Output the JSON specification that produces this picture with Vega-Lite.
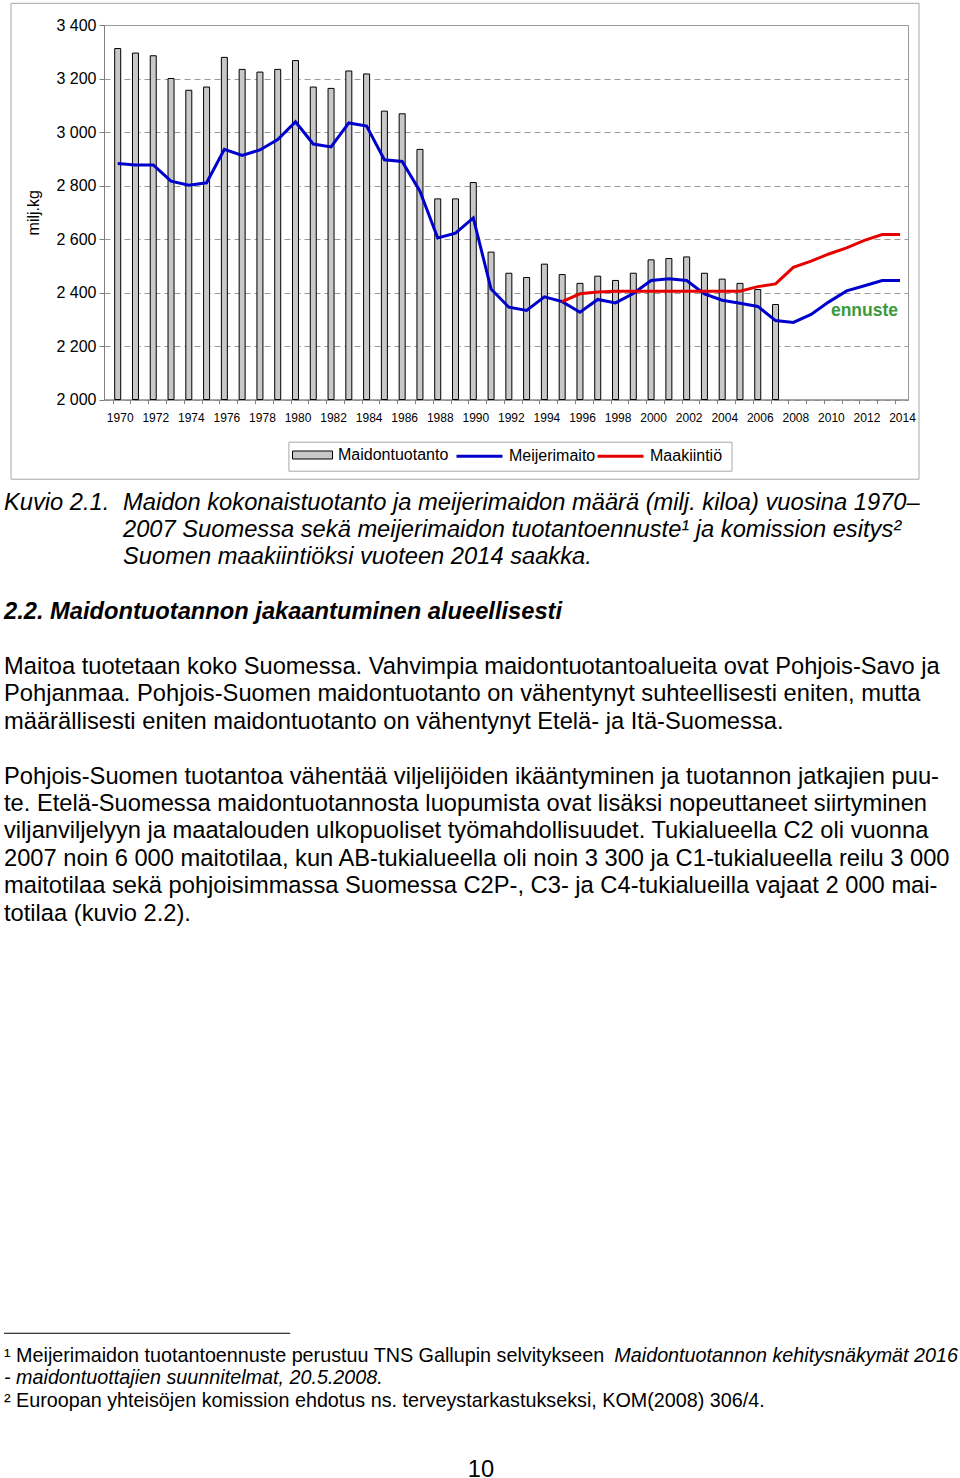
{
  "$schema": "https://vega.github.io/schema/vega-lite/v6.json",
  "background": "white",
  "padding": {"left": 3, "top": 2, "right": 0, "bottom": 0},
  "datasets": {
    "milk": [
      {"year": 1970, "series": "Maidontuotanto", "value": 3312},
      {"year": 1971, "series": "Maidontuotanto", "value": 3295},
      {"year": 1972, "series": "Maidontuotanto", "value": 3285},
      {"year": 1973, "series": "Maidontuotanto", "value": 3200},
      {"year": 1974, "series": "Maidontuotanto", "value": 3156},
      {"year": 1975, "series": "Maidontuotanto", "value": 3168},
      {"year": 1976, "series": "Maidontuotanto", "value": 3279},
      {"year": 1977, "series": "Maidontuotanto", "value": 3234},
      {"year": 1978, "series": "Maidontuotanto", "value": 3224},
      {"year": 1979, "series": "Maidontuotanto", "value": 3234},
      {"year": 1980, "series": "Maidontuotanto", "value": 3267},
      {"year": 1981, "series": "Maidontuotanto", "value": 3168},
      {"year": 1982, "series": "Maidontuotanto", "value": 3163},
      {"year": 1983, "series": "Maidontuotanto", "value": 3228},
      {"year": 1984, "series": "Maidontuotanto", "value": 3217},
      {"year": 1985, "series": "Maidontuotanto", "value": 3078},
      {"year": 1986, "series": "Maidontuotanto", "value": 3068},
      {"year": 1987, "series": "Maidontuotanto", "value": 2935},
      {"year": 1988, "series": "Maidontuotanto", "value": 2750},
      {"year": 1989, "series": "Maidontuotanto", "value": 2750},
      {"year": 1990, "series": "Maidontuotanto", "value": 2811},
      {"year": 1991, "series": "Maidontuotanto", "value": 2551},
      {"year": 1992, "series": "Maidontuotanto", "value": 2472},
      {"year": 1993, "series": "Maidontuotanto", "value": 2456},
      {"year": 1994, "series": "Maidontuotanto", "value": 2506},
      {"year": 1995, "series": "Maidontuotanto", "value": 2467},
      {"year": 1996, "series": "Maidontuotanto", "value": 2434},
      {"year": 1997, "series": "Maidontuotanto", "value": 2461},
      {"year": 1998, "series": "Maidontuotanto", "value": 2445},
      {"year": 1999, "series": "Maidontuotanto", "value": 2472},
      {"year": 2000, "series": "Maidontuotanto", "value": 2522},
      {"year": 2001, "series": "Maidontuotanto", "value": 2527},
      {"year": 2002, "series": "Maidontuotanto", "value": 2533},
      {"year": 2003, "series": "Maidontuotanto", "value": 2472},
      {"year": 2004, "series": "Maidontuotanto", "value": 2450},
      {"year": 2005, "series": "Maidontuotanto", "value": 2434},
      {"year": 2006, "series": "Maidontuotanto", "value": 2411},
      {"year": 2007, "series": "Maidontuotanto", "value": 2355},
      {"year": 1970, "series": "Meijerimaito", "value": 2882},
      {"year": 1971, "series": "Meijerimaito", "value": 2877},
      {"year": 1972, "series": "Meijerimaito", "value": 2877},
      {"year": 1973, "series": "Meijerimaito", "value": 2816},
      {"year": 1974, "series": "Meijerimaito", "value": 2801},
      {"year": 1975, "series": "Meijerimaito", "value": 2810},
      {"year": 1976, "series": "Meijerimaito", "value": 2935},
      {"year": 1977, "series": "Meijerimaito", "value": 2912},
      {"year": 1978, "series": "Meijerimaito", "value": 2933},
      {"year": 1979, "series": "Meijerimaito", "value": 2972},
      {"year": 1980, "series": "Meijerimaito", "value": 3038},
      {"year": 1981, "series": "Meijerimaito", "value": 2955},
      {"year": 1982, "series": "Meijerimaito", "value": 2944},
      {"year": 1983, "series": "Meijerimaito", "value": 3034},
      {"year": 1984, "series": "Meijerimaito", "value": 3022},
      {"year": 1985, "series": "Meijerimaito", "value": 2896},
      {"year": 1986, "series": "Meijerimaito", "value": 2890},
      {"year": 1987, "series": "Meijerimaito", "value": 2779},
      {"year": 1988, "series": "Meijerimaito", "value": 2604},
      {"year": 1989, "series": "Meijerimaito", "value": 2622},
      {"year": 1990, "series": "Meijerimaito", "value": 2679},
      {"year": 1991, "series": "Meijerimaito", "value": 2413},
      {"year": 1992, "series": "Meijerimaito", "value": 2345},
      {"year": 1993, "series": "Meijerimaito", "value": 2333},
      {"year": 1994, "series": "Meijerimaito", "value": 2384},
      {"year": 1995, "series": "Meijerimaito", "value": 2366},
      {"year": 1996, "series": "Meijerimaito", "value": 2326},
      {"year": 1997, "series": "Meijerimaito", "value": 2374},
      {"year": 1998, "series": "Meijerimaito", "value": 2361},
      {"year": 1999, "series": "Meijerimaito", "value": 2396},
      {"year": 2000, "series": "Meijerimaito", "value": 2445},
      {"year": 2001, "series": "Meijerimaito", "value": 2451},
      {"year": 2002, "series": "Meijerimaito", "value": 2445},
      {"year": 2003, "series": "Meijerimaito", "value": 2395},
      {"year": 2004, "series": "Meijerimaito", "value": 2371},
      {"year": 2005, "series": "Meijerimaito", "value": 2360},
      {"year": 2006, "series": "Meijerimaito", "value": 2348},
      {"year": 2007, "series": "Meijerimaito", "value": 2295},
      {"year": 2008, "series": "Meijerimaito", "value": 2288},
      {"year": 2009, "series": "Meijerimaito", "value": 2318},
      {"year": 2010, "series": "Meijerimaito", "value": 2365},
      {"year": 2011, "series": "Meijerimaito", "value": 2406},
      {"year": 2012, "series": "Meijerimaito", "value": 2425},
      {"year": 2013, "series": "Meijerimaito", "value": 2445},
      {"year": 2014, "series": "Meijerimaito", "value": 2445},
      {"year": 1995, "series": "Maakiintiö", "value": 2366},
      {"year": 1996, "series": "Maakiintiö", "value": 2395},
      {"year": 1997, "series": "Maakiintiö", "value": 2402},
      {"year": 1998, "series": "Maakiintiö", "value": 2405},
      {"year": 1999, "series": "Maakiintiö", "value": 2405},
      {"year": 2000, "series": "Maakiintiö", "value": 2405},
      {"year": 2001, "series": "Maakiintiö", "value": 2405},
      {"year": 2002, "series": "Maakiintiö", "value": 2405},
      {"year": 2003, "series": "Maakiintiö", "value": 2405},
      {"year": 2004, "series": "Maakiintiö", "value": 2405},
      {"year": 2005, "series": "Maakiintiö", "value": 2405},
      {"year": 2006, "series": "Maakiintiö", "value": 2422},
      {"year": 2007, "series": "Maakiintiö", "value": 2432},
      {"year": 2008, "series": "Maakiintiö", "value": 2494},
      {"year": 2009, "series": "Maakiintiö", "value": 2517},
      {"year": 2010, "series": "Maakiintiö", "value": 2544},
      {"year": 2011, "series": "Maakiintiö", "value": 2567},
      {"year": 2012, "series": "Maakiintiö", "value": 2595},
      {"year": 2013, "series": "Maakiintiö", "value": 2617},
      {"year": 2014, "series": "Maakiintiö", "value": 2617}
    ],
    "maintext": [
      {"block": "caption", "col": "margin", "line": 0, "text": "Kuvio 2.1."},
      {"block": "caption", "col": "indent", "line": 0, "text": "Maidon kokonaistuotanto ja meijerimaidon määrä (milj. kiloa) vuosina 1970–"},
      {"block": "caption", "col": "indent", "line": 1, "text": "2007 Suomessa sekä meijerimaidon tuotantoennuste¹ ja komission esitys²"},
      {"block": "caption", "col": "indent", "line": 2, "text": "Suomen maakiintiöksi vuoteen 2014 saakka."},
      {"block": "heading", "col": "margin", "line": 4, "text": "2.2. Maidontuotannon jakaantuminen alueellisesti"},
      {"block": "body", "col": "margin", "line": 6, "text": "Maitoa tuotetaan koko Suomessa. Vahvimpia maidontuotantoalueita ovat Pohjois-Savo ja"},
      {"block": "body", "col": "margin", "line": 7, "text": "Pohjanmaa. Pohjois-Suomen maidontuotanto on vähentynyt suhteellisesti eniten, mutta"},
      {"block": "body", "col": "margin", "line": 8, "text": "määrällisesti eniten maidontuotanto on vähentynyt Etelä- ja Itä-Suomessa."},
      {"block": "body", "col": "margin", "line": 10, "text": "Pohjois-Suomen tuotantoa vähentää viljelijöiden ikääntyminen ja tuotannon jatkajien puu-"},
      {"block": "body", "col": "margin", "line": 11, "text": "te. Etelä-Suomessa maidontuotannosta luopumista ovat lisäksi nopeuttaneet siirtyminen"},
      {"block": "body", "col": "margin", "line": 12, "text": "viljanviljelyyn ja maatalouden ulkopuoliset työmahdollisuudet. Tukialueella C2 oli vuonna"},
      {"block": "body", "col": "margin", "line": 13, "text": "2007 noin 6 000 maitotilaa, kun AB-tukialueella oli noin 3 300 ja C1-tukialueella reilu 3 000"},
      {"block": "body", "col": "margin", "line": 14, "text": "maitotilaa sekä pohjoisimmassa Suomessa C2P-, C3- ja C4-tukialueilla vajaat 2 000 mai-"},
      {"block": "body", "col": "margin", "line": 15, "text": "totilaa (kuvio 2.2)."}
    ],
    "footnotes": [
      {"kind": "separator", "place": "start", "line": -1, "text": ""},
      {"kind": "note", "place": "start", "line": 0, "text": "¹ Meijerimaidon tuotantoennuste perustuu TNS Gallupin selvitykseen"},
      {"kind": "source-title", "place": "end", "line": 0, "text": "Maidontuotannon kehitysnäkymät 2016"},
      {"kind": "source-title", "place": "start", "line": 1, "text": "- maidontuottajien suunnitelmat, 20.5.2008."},
      {"kind": "note", "place": "start", "line": 2, "text": "² Euroopan yhteisöjen komission ehdotus ns. terveystarkastukseksi, KOM(2008) 306/4."}
    ]
  },
  "vconcat": [
    {
      "vconcat": [
        {
          "width": 804,
          "height": 374.5,
          "view": {"stroke": "#9a9a9a"},
          "data": {"name": "milk"},
          "resolve": {"axis": {"x": "independent"}},
          "layer": [
            {
              "data": {"values": [{}]},
              "mark": {"type": "rect", "fill": "transparent", "stroke": "#a8a8a8", "strokeWidth": 1},
              "encoding": {
                "x": {"datum": 1964.0, "type": "quantitative", "axis": null},
                "x2": {"datum": 2015.07},
                "y": {"datum": 3481, "type": "quantitative"},
                "y2": {"datum": 1702}
              }
            },
            {
              "data": {"values": [{}]},
              "mark": {"type": "rect", "fill": "white", "stroke": "#a8a8a8", "strokeWidth": 1},
              "encoding": {
                "x": {"datum": 1979.63, "type": "quantitative", "axis": null},
                "x2": {"datum": 2004.55},
                "y": {"datum": 1840.4, "type": "quantitative"},
                "y2": {"datum": 1732}
              }
            },
            {
              "transform": [{"filter": "datum.series === 'Maidontuotanto'"}],
              "mark": {"type": "bar", "size": 6, "stroke": "black", "strokeWidth": 1},
              "encoding": {
                "x": {
                  "field": "year", "type": "quantitative",
                  "scale": {"domain": [1969.23, 2014.45], "nice": false, "zero": false, "padding": 0},
                  "axis": {
                    "orient": "bottom",
                    "values": [1969.72, 1971.72, 1973.72, 1975.72, 1977.72, 1979.72, 1981.72, 1983.72, 1985.72, 1987.72, 1989.72, 1991.72, 1993.72, 1995.72, 1997.72, 1999.72, 2001.72, 2003.72, 2005.72, 2007.72, 2009.72, 2011.72, 2013.72],
                    "labelExpr": "'' + round(datum.value)",
                    "labelOffset": 7,
                    "labelOverlap": false,
                    "labelBound": false,
                    "labelFlush": false,
                    "labelFontSize": 12,
                    "labelPadding": 13,
                    "ticks": false,
                    "domainColor": "#808080",
                    "grid": false,
                    "title": null
                  }
                },
                "y": {
                  "field": "value", "type": "quantitative",
                  "scale": {"domain": [2000, 3400], "nice": false, "zero": false, "padding": 0},
                  "axis": {
                    "values": [2000, 2200, 2400, 2600, 2800, 3000, 3200, 3400],
                    "labelExpr": "replace(format(datum.value, ','), ',', ' ')",
                    "labelFontSize": 16,
                    "labelPadding": 3,
                    "tickSize": 5,
                    "tickColor": "#808080",
                    "domainColor": "#808080",
                    "grid": true,
                    "gridColor": "#9a9a9a",
                    "gridDash": [6, 4],
                    "title": "milj.kg",
                    "titleFontSize": 16,
                    "titleFontWeight": "normal",
                    "titlePadding": 14
                  }
                },
                "y2": {"datum": 2000},
                "fill": {
                  "field": "series", "type": "nominal",
                  "scale": {"domain": ["Maidontuotanto"], "range": ["#c8c8c8"]},
                  "legend": {
                    "title": null,
                    "orient": "none",
                    "legendX": 188,
                    "legendY": 409.5,
                    "symbolType": "M-1,-0.2H1V0.2H-1Z",
                    "symbolSize": 1600,
                    "symbolStrokeColor": "black",
                    "symbolStrokeWidth": 1,
                    "symbolOffset": 0,
                    "labelOffset": 5,
                    "labelFontSize": 16,
                    "labelColor": "black",
                    "padding": 0
                  }
                }
              }
            },
            {
              "transform": [{"filter": "datum.series === 'Meijerimaito'"}],
              "mark": {"type": "line", "strokeWidth": 3},
              "encoding": {
                "x": {
                  "field": "year", "type": "quantitative",
                  "axis": {
                    "orient": "bottom",
                    "values": [1969.72, 1970.72, 1971.72, 1972.72, 1973.72, 1974.72, 1975.72, 1976.72, 1977.72, 1978.72, 1979.72, 1980.72, 1981.72, 1982.72, 1983.72, 1984.72, 1985.72, 1986.72, 1987.72, 1988.72, 1989.72, 1990.72, 1991.72, 1992.72, 1993.72, 1994.72, 1995.72, 1996.72, 1997.72, 1998.72, 1999.72, 2000.72, 2001.72, 2002.72, 2003.72, 2004.72, 2005.72, 2006.72, 2007.72, 2008.72, 2009.72, 2010.72, 2011.72, 2012.72, 2013.72],
                    "labels": false,
                    "domain": false,
                    "ticks": true,
                    "tickSize": 4,
                    "tickColor": "#808080",
                    "grid": false,
                    "title": null
                  }
                },
                "y": {"field": "value", "type": "quantitative"},
                "stroke": {
                  "field": "series", "type": "nominal",
                  "scale": {"domain": ["Meijerimaito", "Maakiintiö"], "range": ["#0000cc", "#e60000"]},
                  "legend": {
                    "title": null,
                    "orient": "none",
                    "legendX": 351,
                    "legendY": 406.5,
                    "direction": "horizontal",
                    "symbolType": "stroke",
                    "symbolSize": 2116,
                    "symbolStrokeWidth": 3,
                    "symbolOffset": 0,
                    "labelOffset": 5,
                    "columnPadding": -5,
                    "labelFontSize": 16,
                    "labelColor": "black",
                    "padding": 0
                  }
                }
              }
            },
            {
              "transform": [{"filter": "datum.series === 'Maakiintiö'"}],
              "mark": {"type": "line", "strokeWidth": 3},
              "encoding": {
                "x": {"field": "year", "type": "quantitative", "axis": null},
                "y": {"field": "value", "type": "quantitative"},
                "stroke": {"field": "series", "type": "nominal"}
              }
            },
            {
              "data": {"values": [{"year": 2012, "value": 2330, "label": "ennuste"}]},
              "mark": {"type": "text", "font": "Liberation Sans", "fontSize": 17.5, "fontWeight": "bold", "color": "#3a9a3a", "align": "center", "baseline": "middle"},
              "encoding": {
                "x": {"field": "year", "type": "quantitative", "axis": null},
                "y": {"field": "value", "type": "quantitative"},
                "text": {"field": "label"}
              }
            }
          ]
        },
        {
          "width": 954,
          "height": 438.4,
          "data": {"name": "maintext"},
          "encoding": {
            "x": {"field": "col", "type": "ordinal", "scale": {"type": "point", "domain": ["margin", "indent"], "range": [-100, 19], "padding": 0}, "axis": null},
            "y": {"field": "line", "type": "quantitative", "scale": {"domain": [-0.5, 15.5], "reverse": true, "nice": false, "zero": false}, "axis": null},
            "text": {"field": "text"}
          },
          "layer": [
            {
              "transform": [{"filter": "datum.block === 'caption'"}],
              "mark": {"type": "text", "align": "left", "baseline": "middle", "font": "Liberation Sans", "fontSize": 23.7, "fontStyle": "italic", "color": "black"}
            },
            {
              "transform": [{"filter": "datum.block === 'heading'"}],
              "mark": {"type": "text", "align": "left", "baseline": "middle", "font": "Liberation Sans", "fontSize": 23.7, "fontStyle": "italic", "fontWeight": "bold", "color": "black"}
            },
            {
              "transform": [{"filter": "datum.block === 'body'"}],
              "mark": {"type": "text", "align": "left", "baseline": "middle", "font": "Liberation Sans", "fontSize": 23.7, "color": "black"}
            }
          ]
        }
      ],
      "spacing": 7.8,
      "resolve": {"scale": {"x": "independent", "y": "independent", "fill": "independent", "stroke": "independent"}}
    },
    {
      "vconcat": [
        {
          "width": 854,
          "height": 90,
          "data": {"name": "footnotes"},
          "encoding": {
            "y": {"field": "line", "type": "quantitative", "scale": {"domain": [-1.5, 2.5], "reverse": true, "nice": false, "zero": false}, "axis": null}
          },
          "layer": [
            {
              "transform": [{"filter": "datum.kind === 'separator'"}],
              "mark": {"type": "rule", "stroke": "black", "strokeWidth": 1.2},
              "encoding": {
                "x": {"datum": 0, "type": "quantitative", "scale": {"domain": [0, 1], "range": [-100, 854], "nice": false, "zero": false}, "axis": null},
                "x2": {"datum": 0.3}
              }
            },
            {
              "transform": [{"filter": "datum.kind === 'note'"}],
              "mark": {"type": "text", "align": "left", "baseline": "middle", "font": "Liberation Sans", "fontSize": 19.75, "color": "black"},
              "encoding": {"x": {"datum": 0, "type": "quantitative"}, "text": {"field": "text"}}
            },
            {
              "transform": [{"filter": "datum.kind === 'source-title' && datum.place === 'start'"}],
              "mark": {"type": "text", "align": "left", "baseline": "middle", "font": "Liberation Sans", "fontSize": 19.75, "fontStyle": "italic", "color": "black"},
              "encoding": {"x": {"datum": 0, "type": "quantitative"}, "text": {"field": "text"}}
            },
            {
              "transform": [{"filter": "datum.kind === 'source-title' && datum.place === 'end'"}],
              "mark": {"type": "text", "align": "right", "baseline": "middle", "font": "Liberation Sans", "fontSize": 19.75, "fontStyle": "italic", "color": "black"},
              "encoding": {"x": {"datum": 1, "type": "quantitative"}, "text": {"field": "text"}}
            }
          ]
        },
        {
          "width": 854,
          "height": 20,
          "data": {"values": [{"page": "10"}]},
          "mark": {"type": "text", "align": "center", "baseline": "middle", "font": "Liberation Sans", "fontSize": 23.7, "color": "black"},
          "encoding": {
            "x": {"datum": 0.5, "type": "quantitative", "scale": {"domain": [0, 1], "range": [-100, 854], "nice": false, "zero": false}, "axis": null},
            "text": {"field": "page"}
          }
        }
      ],
      "spacing": 45.5,
      "resolve": {"scale": {"x": "independent", "y": "independent"}}
    }
  ],
  "spacing": 394,
  "resolve": {"scale": {"x": "independent", "y": "independent", "fill": "independent", "stroke": "independent"}},
  "config": {
    "view": {"stroke": null},
    "font": "Liberation Sans",
    "axis": {"labelFont": "Liberation Sans", "titleFont": "Liberation Sans", "labelColor": "black", "titleColor": "black"},
    "legend": {"labelFont": "Liberation Sans"}
  }
}
